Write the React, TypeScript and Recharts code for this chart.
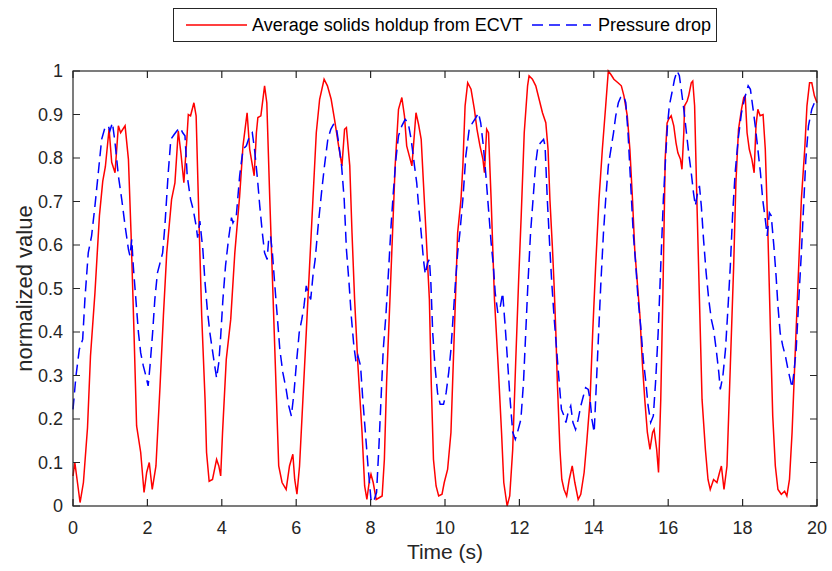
import { LineChart, Line, XAxis, YAxis } from 'recharts';

// ECVT average solids holdup (red, solid)
const ecvtTime = [
  0, 0.05, 0.12, 0.19, 0.28, 0.39, 0.47, 0.59, 0.71, 0.8, 0.87, 0.97, 1.04, 1.13, 1.22, 1.28, 1.4, 1.49, 1.56, 1.64,
  1.71, 1.82, 1.91, 1.98, 2.05, 2.13, 2.23, 2.34, 2.43, 2.52, 2.65, 2.74, 2.83, 2.9, 2.98, 3.06, 3.1, 3.16, 3.25, 3.31,
  3.37, 3.46, 3.55, 3.59, 3.66, 3.75, 3.86, 3.92, 3.97, 4.02, 4.12, 4.24, 4.35, 4.48, 4.57, 4.68, 4.75, 4.87, 4.93, 4.97,
  5.05, 5.15, 5.21, 5.29, 5.38, 5.47, 5.53, 5.62, 5.73, 5.82, 5.91, 5.96, 6.02, 6.09, 6.18, 6.27, 6.36, 6.45, 6.54, 6.63,
  6.75, 6.84, 6.94, 7.03, 7.14, 7.23, 7.3, 7.35, 7.44, 7.5, 7.57, 7.66, 7.77, 7.84, 7.9, 7.97, 8.01, 8.07, 8.15, 8.23,
  8.31, 8.37, 8.43, 8.52, 8.59, 8.66, 8.75, 8.84, 8.91, 8.97, 9.04, 9.11, 9.18, 9.22, 9.29, 9.36, 9.42, 9.49, 9.58, 9.63,
  9.69, 9.76, 9.83, 9.92, 9.98, 10.07, 10.16, 10.25, 10.34, 10.43, 10.48, 10.54, 10.61, 10.7, 10.79, 10.86, 10.94, 11.02, 11.06, 11.12,
  11.17, 11.24, 11.33, 11.43, 11.52, 11.58, 11.67, 11.74, 11.82, 11.9, 11.98, 12.05, 12.13, 12.22, 12.26, 12.35, 12.44, 12.53, 12.62, 12.71,
  12.77, 12.82, 12.89, 12.93, 12.98, 13.02, 13.09, 13.14, 13.2, 13.27, 13.34, 13.42, 13.49, 13.58, 13.65, 13.74, 13.81, 13.9, 13.97, 14.05,
  14.14, 14.23, 14.32, 14.39, 14.46, 14.54, 14.65, 14.74, 14.81, 14.9, 14.97, 15.04, 15.1, 15.17, 15.24, 15.31, 15.37, 15.44, 15.51, 15.58,
  15.62, 15.69, 15.74, 15.8, 15.86, 15.92, 15.97, 16.01, 16.08, 16.15, 16.21, 16.26, 16.33, 16.37, 16.42, 16.44, 16.51, 16.55, 16.62, 16.66,
  16.71, 16.77, 16.84, 16.91, 17.0, 17.07, 17.13, 17.22, 17.31, 17.38, 17.43, 17.5, 17.58, 17.67, 17.76, 17.82, 17.89, 17.97, 18.03, 18.07,
  18.12, 18.18, 18.25, 18.31, 18.36, 18.41, 18.47, 18.55, 18.61, 18.68, 18.75, 18.81, 18.88, 18.95, 19.04, 19.13, 19.19, 19.26, 19.33, 19.4,
  19.49, 19.58, 19.67, 19.73, 19.8, 19.86, 19.93, 20,
];
const ecvtValue = [
  0.069, 0.1, 0.054, 0.008, 0.054, 0.18, 0.345, 0.49, 0.667, 0.747, 0.78, 0.867, 0.79, 0.766, 0.874, 0.858, 0.874, 0.797, 0.628, 0.398,
  0.184, 0.123, 0.031, 0.077, 0.1, 0.038, 0.092, 0.276, 0.437, 0.582, 0.705, 0.743, 0.862, 0.812, 0.743, 0.843, 0.9, 0.897, 0.927, 0.897,
  0.705, 0.437, 0.245, 0.123, 0.057, 0.061, 0.107, 0.092, 0.069, 0.169, 0.337, 0.429, 0.582, 0.713, 0.828, 0.904, 0.82, 0.759, 0.858, 0.893,
  0.897, 0.966, 0.927, 0.705, 0.475, 0.245, 0.092, 0.054, 0.038, 0.092, 0.119, 0.061, 0.027, 0.092, 0.245, 0.398, 0.552, 0.705, 0.858, 0.935,
  0.981, 0.966, 0.935, 0.889, 0.828, 0.782, 0.866, 0.87, 0.782, 0.628, 0.475, 0.322, 0.169, 0.046, 0.015, 0.06, 0.073, 0.054, 0.015, 0.019,
  0.023, 0.107, 0.284, 0.475, 0.628, 0.782, 0.912, 0.939, 0.897, 0.828, 0.805, 0.782, 0.858, 0.904, 0.877, 0.843, 0.743, 0.628, 0.475, 0.284,
  0.107, 0.046, 0.023, 0.027, 0.054, 0.084, 0.169, 0.398, 0.628, 0.705, 0.782, 0.92, 0.973, 0.958, 0.912, 0.866, 0.828, 0.797, 0.766, 0.866,
  0.858, 0.705, 0.475, 0.322, 0.169, 0.054, 0.0, 0.023, 0.13, 0.33, 0.52, 0.67, 0.858, 0.966, 0.989, 0.981, 0.966, 0.935, 0.904, 0.881,
  0.82, 0.705, 0.59, 0.513, 0.398, 0.284, 0.13, 0.061, 0.038, 0.023, 0.061, 0.092, 0.054, 0.015, 0.027, 0.077, 0.146, 0.245, 0.398, 0.552,
  0.705, 0.82, 0.92, 1.0, 0.992, 0.981, 0.973, 0.966, 0.943, 0.897, 0.82, 0.705, 0.59, 0.513, 0.437, 0.322, 0.245, 0.169, 0.13, 0.169,
  0.176, 0.13, 0.077, 0.245, 0.5, 0.8, 0.88, 0.889, 0.897, 0.874, 0.835, 0.812, 0.797, 0.774, 0.858, 0.92, 0.931, 0.943, 0.973, 0.977,
  0.92, 0.705, 0.475, 0.245, 0.13, 0.061, 0.038, 0.061, 0.054, 0.077, 0.092, 0.038, 0.092, 0.322, 0.552, 0.743, 0.866, 0.912, 0.939, 0.943,
  0.858, 0.82, 0.797, 0.766, 0.874, 0.912, 0.897, 0.9, 0.82, 0.628, 0.398, 0.207, 0.092, 0.038, 0.027, 0.034, 0.023, 0.061, 0.169, 0.322,
  0.513, 0.705, 0.82, 0.92, 0.973, 0.973, 0.943, 0.927,
];

// Pressure drop (blue, dashed)
const dpTime = [
  0, 0.08, 0.17, 0.26, 0.32, 0.41, 0.5, 0.59, 0.68, 0.77, 0.86, 0.95, 0.99, 1.06, 1.13, 1.22, 1.31, 1.4, 1.49, 1.53,
  1.58, 1.62, 1.69, 1.76, 1.82, 1.89, 1.96, 2.02, 2.07, 2.14, 2.2, 2.27, 2.34, 2.41, 2.47, 2.56, 2.63, 2.72, 2.79, 2.88,
  2.95, 3.01, 3.07, 3.16, 3.23, 3.31, 3.35, 3.41, 3.49, 3.55, 3.61, 3.68, 3.77, 3.86, 3.92, 3.97, 4.03, 4.1, 4.18, 4.26,
  4.3, 4.39, 4.48, 4.57, 4.66, 4.75, 4.82, 4.88, 4.96, 5.02, 5.09, 5.15, 5.22, 5.26, 5.31, 5.36, 5.42, 5.49, 5.56, 5.64,
  5.73, 5.8, 5.87, 5.94, 6.0, 6.08, 6.15, 6.21, 6.27, 6.32, 6.39, 6.45, 6.51, 6.59, 6.68, 6.76, 6.85, 6.93, 7.0, 7.08,
  7.14, 7.22, 7.29, 7.35, 7.42, 7.48, 7.55, 7.61, 7.66, 7.73, 7.79, 7.86, 7.93, 8.01, 8.06, 8.1, 8.16, 8.22, 8.28, 8.34,
  8.41, 8.49, 8.55, 8.61, 8.68, 8.75, 8.84, 8.93, 9.01, 9.09, 9.18, 9.24, 9.29, 9.36, 9.42, 9.47, 9.53, 9.58, 9.62, 9.67,
  9.73, 9.8, 9.87, 9.96, 10.03, 10.1, 10.16, 10.22, 10.28, 10.34, 10.4, 10.48, 10.56, 10.65, 10.74, 10.83, 10.9, 10.96, 11.03, 11.1,
  11.17, 11.24, 11.3, 11.35, 11.42, 11.49, 11.55, 11.63, 11.69, 11.75, 11.82, 11.89, 11.95, 12.04, 12.11, 12.17, 12.23, 12.3, 12.38, 12.44,
  12.5, 12.57, 12.65, 12.69, 12.75, 12.82, 12.87, 12.93, 13.0, 13.07, 13.13, 13.2, 13.25, 13.31, 13.38, 13.44, 13.51, 13.58, 13.65, 13.72,
  13.78, 13.85, 13.9, 13.95, 14.01, 14.05, 14.11, 14.19, 14.26, 14.32, 14.39, 14.46, 14.53, 14.59, 14.66, 14.72, 14.8, 14.86, 14.92, 14.99,
  15.06, 15.13, 15.19, 15.26, 15.33, 15.4, 15.46, 15.53, 15.6, 15.66, 15.73, 15.8, 15.87, 15.93, 15.98, 16.03, 16.1, 16.17, 16.24, 16.3,
  16.35, 16.42, 16.48, 16.55, 16.62, 16.68, 16.73, 16.79, 16.84, 16.89, 16.95, 17.02, 17.09, 17.16, 17.22, 17.29, 17.36, 17.4, 17.47, 17.54,
  17.61, 17.67, 17.73, 17.8, 17.88, 17.97, 18.06, 18.15, 18.21, 18.27, 18.34, 18.41, 18.48, 18.54, 18.61, 18.66, 18.72, 18.77, 18.84, 18.9,
  18.95, 19.01, 19.08, 19.15, 19.22, 19.28, 19.33, 19.38, 19.44, 19.51, 19.58, 19.64, 19.7, 19.77, 19.86, 19.93, 20,
];
const dpValue = [
  0.222, 0.299, 0.36, 0.383, 0.475, 0.582, 0.621, 0.69, 0.766, 0.843, 0.87, 0.874, 0.862, 0.881, 0.835, 0.759, 0.705, 0.644, 0.59, 0.575,
  0.613, 0.552, 0.475, 0.398, 0.352, 0.322, 0.299, 0.276, 0.322, 0.398, 0.475, 0.536, 0.559, 0.582, 0.644, 0.766, 0.843, 0.854, 0.862, 0.87,
  0.858, 0.851, 0.759, 0.705, 0.682, 0.644, 0.617, 0.655, 0.59, 0.513, 0.452, 0.398, 0.345, 0.294, 0.33, 0.39, 0.475, 0.552, 0.613, 0.663,
  0.651, 0.667, 0.759, 0.82, 0.828, 0.851, 0.858, 0.82, 0.751, 0.69, 0.628, 0.582, 0.567, 0.613, 0.621, 0.582, 0.513, 0.437, 0.36, 0.307,
  0.268, 0.23, 0.207, 0.26, 0.322, 0.398, 0.429, 0.46, 0.506, 0.49, 0.475, 0.529, 0.567, 0.644, 0.72, 0.782, 0.843, 0.866, 0.877, 0.87,
  0.835, 0.782, 0.705, 0.59, 0.513, 0.437, 0.368, 0.33, 0.345, 0.322, 0.245, 0.169, 0.092, 0.015, 0.008, 0.015, 0.031, 0.13, 0.245, 0.36,
  0.437, 0.552, 0.644, 0.72, 0.797, 0.851, 0.874, 0.889, 0.881, 0.843, 0.782, 0.743, 0.69, 0.628, 0.567, 0.533, 0.559, 0.567, 0.513, 0.398,
  0.322, 0.26, 0.234, 0.234, 0.26, 0.307, 0.36, 0.437, 0.513, 0.582, 0.628, 0.705, 0.805, 0.866, 0.881, 0.893, 0.904, 0.881, 0.828, 0.759,
  0.682, 0.605, 0.552, 0.49, 0.444, 0.46, 0.49, 0.398, 0.322, 0.245, 0.17, 0.153, 0.17, 0.199, 0.284, 0.398, 0.513, 0.628, 0.72, 0.789,
  0.828, 0.835, 0.843, 0.828, 0.705, 0.59, 0.513, 0.437, 0.36, 0.284, 0.222, 0.207, 0.192, 0.215, 0.23, 0.192, 0.176, 0.199, 0.23, 0.253,
  0.272, 0.268, 0.245, 0.199, 0.169, 0.245, 0.36, 0.513, 0.628, 0.705, 0.782, 0.82, 0.858, 0.897, 0.927, 0.939, 0.943, 0.927, 0.858, 0.743,
  0.628, 0.552, 0.475, 0.414, 0.337, 0.284, 0.23, 0.192, 0.207, 0.284, 0.398, 0.552, 0.705, 0.8, 0.874, 0.92, 0.95, 0.981, 1.0, 0.989,
  0.958, 0.912, 0.866, 0.812, 0.766, 0.72, 0.69, 0.72, 0.736, 0.69, 0.613, 0.536, 0.475, 0.429, 0.406, 0.36, 0.307, 0.268, 0.299, 0.36,
  0.46, 0.552, 0.667, 0.766, 0.843, 0.904, 0.939, 0.966, 0.958, 0.92, 0.874, 0.82, 0.766, 0.705, 0.659, 0.621, 0.674, 0.667, 0.598, 0.529,
  0.46, 0.398, 0.368, 0.345, 0.314, 0.291, 0.272, 0.307, 0.36, 0.475, 0.582, 0.69, 0.797, 0.874, 0.912, 0.927, 0.935,
];

const xTicks = [0, 2, 4, 6, 8, 10, 12, 14, 16, 18, 20];
const yTicks = [0, 0.1, 0.2, 0.3, 0.4, 0.5, 0.6, 0.7, 0.8, 0.9, 1];

const ecvtName = 'Average solids holdup from ECVT';
const dpName = 'Pressure drop';

const ecvtData = ecvtTime.map((t, i) => ({ t, v: ecvtValue[i] }));
const dpData = dpTime.map((t, i) => ({ t, v: dpValue[i] }));

const FONT = '"Liberation Sans", Arial, Helvetica, sans-serif';
const INK = '#262626';

const W = 832;
const H = 571;
const M = { top: 71, right: 15, bottom: 0, left: 0 };
const Y_AXIS_W = 73;
const X_AXIS_H = 65;
const PLOT_L = M.left + Y_AXIS_W;
const PLOT_T = M.top;
const PLOT_W = W - M.left - M.right - Y_AXIS_W;
const PLOT_H = H - M.top - M.bottom - X_AXIS_H;
const TICK_LEN = 7;
const X_MAX = 20;

const fmtY = (v: number) => (v === 0 || v === 1 ? String(v) : v.toFixed(1));

// box, inward ticks on all four sides, and the rotated y label
const AxesFrame = () => {
  const bottom = PLOT_T + PLOT_H;
  const right = PLOT_L + PLOT_W;
  const xt = xTicks.map((t) => PLOT_L + (t / X_MAX) * PLOT_W);
  const yt = yTicks.map((v) => bottom - v * PLOT_H);
  const d = [
    ...xt.map((x) => `M${x},${bottom}v${-TICK_LEN}M${x},${PLOT_T}v${TICK_LEN}`),
    ...yt.map((y) => `M${PLOT_L},${y}h${TICK_LEN}M${right},${y}h${-TICK_LEN}`),
  ].join('');
  return (
    <svg width={W} height={H} style={{ position: 'absolute', left: 0, top: 0, pointerEvents: 'none' }}>
      <rect x={PLOT_L} y={PLOT_T} width={PLOT_W} height={PLOT_H} fill="none" stroke={INK} strokeWidth={1.2} />
      <path d={d} stroke={INK} strokeWidth={1.2} fill="none" />
      <text
        x={24}
        y={PLOT_T + PLOT_H / 2}
        transform={`rotate(-90 24 ${PLOT_T + PLOT_H / 2})`}
        textAnchor="middle"
        dominantBaseline="central"
        fontSize={22}
        fontFamily={FONT}
        fill={INK}
      >
        normalized value
      </text>
    </svg>
  );
};

const ChartLegend = () => (
  <svg width={545} height={35} style={{ position: 'absolute', left: 173, top: 8 }}>
    <rect x={0.5} y={0.5} width={543} height={33} fill="#fff" stroke={INK} strokeWidth={1} />
    <line x1={13} y1={17} x2={74} y2={17} stroke="#ff0000" strokeWidth={1.5} />
    <text x={79} y={23} fontSize={18} fontFamily={FONT} fill="#000">{ecvtName}</text>
    <line x1={359} y1={17} x2={418} y2={17} stroke="#0000ff" strokeWidth={1.5} strokeDasharray="11 6" />
    <text x={425} y={23} fontSize={18} fontFamily={FONT} fill="#000">{dpName}</text>
  </svg>
);

const tickStyle = { fontSize: 18, fontFamily: FONT, fill: INK };

export default function App() {
  return (
    <div style={{ position: 'absolute', left: 0, top: 0, width: W, height: H, background: '#fff' }}>
      <LineChart width={W} height={H} margin={M}>
        <XAxis
          dataKey="t"
          type="number"
          domain={[0, X_MAX]}
          ticks={xTicks}
          height={X_AXIS_H}
          axisLine={false}
          tickLine={false}
          tickSize={0}
          tickMargin={15}
          tick={tickStyle}
          label={{ value: 'Time (s)', position: 'insideBottom', offset: 12, fontSize: 21, fontFamily: FONT, fill: INK }}
        />
        <YAxis
          type="number"
          domain={[0, 1]}
          ticks={yTicks}
          width={Y_AXIS_W}
          axisLine={false}
          tickLine={false}
          tickSize={0}
          tickMargin={10}
          tick={tickStyle}
          tickFormatter={fmtY}
        />
        <Line
          data={ecvtData}
          dataKey="v"
          name={ecvtName}
          type="linear"
          stroke="#ff0000"
          strokeWidth={1.5}
          dot={false}
          activeDot={false}
          isAnimationActive={false}
        />
        <Line
          data={dpData}
          dataKey="v"
          name={dpName}
          type="linear"
          stroke="#0000ff"
          strokeWidth={1.5}
          strokeDasharray="11 6"
          dot={false}
          activeDot={false}
          isAnimationActive={false}
        />
      </LineChart>
      <AxesFrame />
      <ChartLegend />
    </div>
  );
}
